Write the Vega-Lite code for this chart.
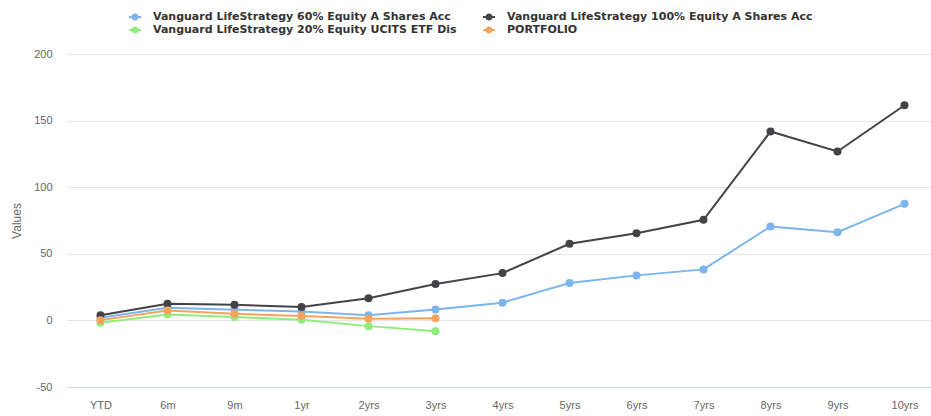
{
  "$schema": "https://vega.github.io/schema/vega-lite/v6.json",
  "autosize": "none",
  "width": 871,
  "height": 333,
  "padding": {"left": 67, "top": 54, "right": 0, "bottom": 29},
  "background": "white",
  "config": {
    "font": "Liberation Sans",
    "view": {"stroke": null}
  },
  "data": {
    "values": [
      {"period": "YTD", "series": "Vanguard LifeStrategy 60% Equity A Shares Acc", "value": 2},
      {"period": "6m", "series": "Vanguard LifeStrategy 60% Equity A Shares Acc", "value": 9.5},
      {"period": "9m", "series": "Vanguard LifeStrategy 60% Equity A Shares Acc", "value": 8},
      {"period": "1yr", "series": "Vanguard LifeStrategy 60% Equity A Shares Acc", "value": 6.7},
      {"period": "2yrs", "series": "Vanguard LifeStrategy 60% Equity A Shares Acc", "value": 3.8},
      {"period": "3yrs", "series": "Vanguard LifeStrategy 60% Equity A Shares Acc", "value": 8.2},
      {"period": "4yrs", "series": "Vanguard LifeStrategy 60% Equity A Shares Acc", "value": 13.3},
      {"period": "5yrs", "series": "Vanguard LifeStrategy 60% Equity A Shares Acc", "value": 28},
      {"period": "6yrs", "series": "Vanguard LifeStrategy 60% Equity A Shares Acc", "value": 33.8},
      {"period": "7yrs", "series": "Vanguard LifeStrategy 60% Equity A Shares Acc", "value": 38.3},
      {"period": "8yrs", "series": "Vanguard LifeStrategy 60% Equity A Shares Acc", "value": 70.5},
      {"period": "9yrs", "series": "Vanguard LifeStrategy 60% Equity A Shares Acc", "value": 66.2},
      {"period": "10yrs", "series": "Vanguard LifeStrategy 60% Equity A Shares Acc", "value": 87.5},
      {"period": "YTD", "series": "Vanguard LifeStrategy 100% Equity A Shares Acc", "value": 3.8},
      {"period": "6m", "series": "Vanguard LifeStrategy 100% Equity A Shares Acc", "value": 12.5},
      {"period": "9m", "series": "Vanguard LifeStrategy 100% Equity A Shares Acc", "value": 11.7},
      {"period": "1yr", "series": "Vanguard LifeStrategy 100% Equity A Shares Acc", "value": 10},
      {"period": "2yrs", "series": "Vanguard LifeStrategy 100% Equity A Shares Acc", "value": 16.7},
      {"period": "3yrs", "series": "Vanguard LifeStrategy 100% Equity A Shares Acc", "value": 27.3},
      {"period": "4yrs", "series": "Vanguard LifeStrategy 100% Equity A Shares Acc", "value": 35.5},
      {"period": "5yrs", "series": "Vanguard LifeStrategy 100% Equity A Shares Acc", "value": 57.5},
      {"period": "6yrs", "series": "Vanguard LifeStrategy 100% Equity A Shares Acc", "value": 65.5},
      {"period": "7yrs", "series": "Vanguard LifeStrategy 100% Equity A Shares Acc", "value": 75.5},
      {"period": "8yrs", "series": "Vanguard LifeStrategy 100% Equity A Shares Acc", "value": 141.8},
      {"period": "9yrs", "series": "Vanguard LifeStrategy 100% Equity A Shares Acc", "value": 126.8},
      {"period": "10yrs", "series": "Vanguard LifeStrategy 100% Equity A Shares Acc", "value": 161.5},
      {"period": "YTD", "series": "Vanguard LifeStrategy 20% Equity UCITS ETF Dis", "value": -1.7},
      {"period": "6m", "series": "Vanguard LifeStrategy 20% Equity UCITS ETF Dis", "value": 4.5},
      {"period": "9m", "series": "Vanguard LifeStrategy 20% Equity UCITS ETF Dis", "value": 2.5},
      {"period": "1yr", "series": "Vanguard LifeStrategy 20% Equity UCITS ETF Dis", "value": 0.5},
      {"period": "2yrs", "series": "Vanguard LifeStrategy 20% Equity UCITS ETF Dis", "value": -4.3},
      {"period": "3yrs", "series": "Vanguard LifeStrategy 20% Equity UCITS ETF Dis", "value": -8.2},
      {"period": "YTD", "series": "PORTFOLIO", "value": 0.2},
      {"period": "6m", "series": "PORTFOLIO", "value": 7.5},
      {"period": "9m", "series": "PORTFOLIO", "value": 5},
      {"period": "1yr", "series": "PORTFOLIO", "value": 3.3},
      {"period": "2yrs", "series": "PORTFOLIO", "value": 1.2},
      {"period": "3yrs", "series": "PORTFOLIO", "value": 1.7}
    ]
  },
  "encoding": {
    "x": {
      "field": "period",
      "type": "ordinal",
      "sort": ["YTD", "6m", "9m", "1yr", "2yrs", "3yrs", "4yrs", "5yrs", "6yrs", "7yrs", "8yrs", "9yrs", "10yrs"],
      "scale": {"type": "point", "padding": 0.5},
      "axis": {
        "title": null,
        "labelAngle": 0,
        "labelColor": "#666666",
        "labelFontSize": 11,
        "labelPadding": 12,
        "ticks": false,
        "domainColor": "#ccd6eb",
        "domainWidth": 1,
        "grid": false
      }
    },
    "y": {
      "field": "value",
      "type": "quantitative",
      "scale": {"domain": [-50, 200], "nice": false, "zero": false},
      "axis": {
        "title": "Values",
        "titleColor": "#666666",
        "titleFontSize": 12,
        "titleFontWeight": "normal",
        "titlePadding": 10,
        "values": [-50, 0, 50, 100, 150, 200],
        "labelExpr": "replace(datum.label, '\u2212', '-')",
        "labelColor": "#666666",
        "labelFontSize": 11,
        "labelPadding": 15,
        "ticks": false,
        "domain": false,
        "grid": true,
        "gridColor": "#e6e6e6",
        "gridWidth": 1
      }
    },
    "color": {
      "field": "series",
      "type": "nominal",
      "sort": null,
      "scale": {
        "domain": ["Vanguard LifeStrategy 60% Equity A Shares Acc", "Vanguard LifeStrategy 100% Equity A Shares Acc", "Vanguard LifeStrategy 20% Equity UCITS ETF Dis", "PORTFOLIO"],
        "range": ["#7cb5ec", "#434348", "#90ed7d", "#f7a35c"]
      },
      "legend": {
        "title": null,
        "orient": "none",
        "legendX": 62,
        "legendY": -43,
        "columns": 2,
        "direction": "horizontal",
        "columnPadding": 26,
        "rowPadding": 2,
        "labelFont": "DejaVu Sans",
        "labelFontSize": 11,
        "labelFontWeight": "bold",
        "labelColor": "#333333",
        "labelLimit": 400,
        "symbolType": "M-0.6,0 A0.6,0.6 0 1,1 0.6,0 A0.6,0.6 0 1,1 -0.6,0 Z M-1,-0.17 L1,-0.17 L1,0.17 L-1,0.17 Z",
        "symbolSize": 144,
        "symbolStrokeWidth": 0,
        "labelOffset": 12
      }
    }
  },
  "layer": [
    {"mark": {"type": "line", "strokeWidth": 2}},
    {"mark": {"type": "point", "filled": true, "size": 64, "opacity": 1}}
  ]
}
